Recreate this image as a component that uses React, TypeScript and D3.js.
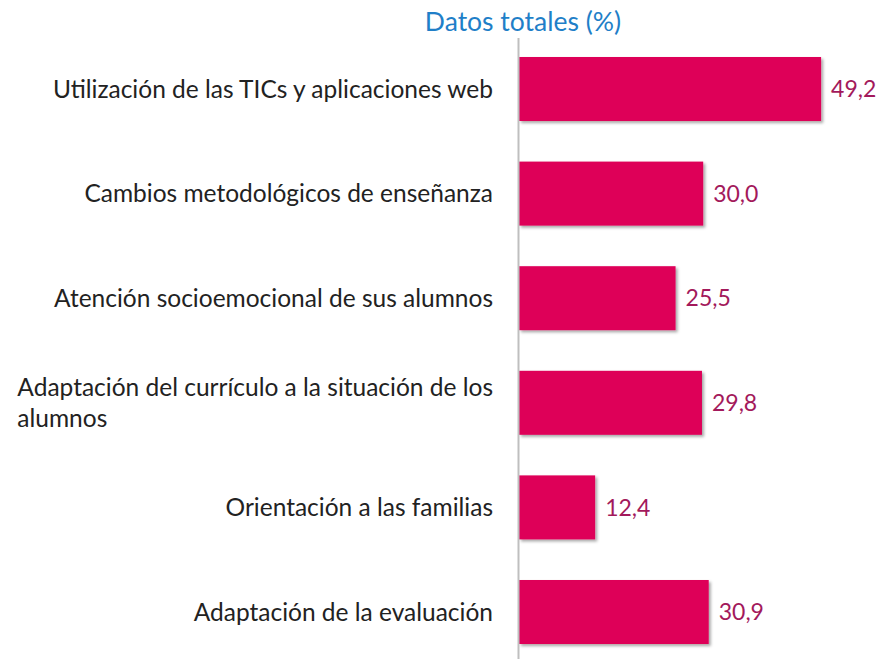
import * as d3 from "d3";
import { useEffect, useRef } from "react";

const categories = [
  ["Utilización de las TICs y aplicaciones web"],
  ["Cambios metodológicos de enseñanza"],
  ["Atención socioemocional de sus alumnos"],
  ["Adaptación del currículo a la situación de los", "alumnos"],
  ["Orientación a las familias"],
  ["Adaptación de la evaluación"],
];
const values = [49.2, 30.0, 25.5, 29.8, 12.4, 30.9];
const title = "Datos totales (%)";

const W = 879;
const H = 659;
const FONT = "Lato, 'Noto Sans', sans-serif";

const App = () => {
  const ref = useRef<SVGSVGElement>(null);

  useEffect(() => {
    const svg = d3.select(ref.current);
    svg.selectAll("*").remove();

    const axisX = 519;
    const x = d3.scaleLinear().domain([0, 50]).range([axisX, axisX + 307]);
    const keys = categories.map((c) => c.join(" "));
    const y = d3
      .scaleBand()
      .domain(keys)
      .range([36.7, 664.3])
      .paddingInner(0.388)
      .paddingOuter(0.194);

    const defs = svg.append("defs");
    const f = defs
      .append("filter")
      .attr("id", "shadow")
      .attr("x", "-5%")
      .attr("y", "-10%")
      .attr("width", "115%")
      .attr("height", "130%");
    f.append("feDropShadow")
      .attr("dx", 2)
      .attr("dy", 2)
      .attr("stdDeviation", 1.5)
      .attr("flood-color", "#000")
      .attr("flood-opacity", 0.35);

    svg
      .append("text")
      .attr("x", 523)
      .attr("y", 31)
      .attr("text-anchor", "middle")
      .attr("font-family", FONT)
      .attr("font-size", 26.5)
      .attr("fill", "#1f7fc8")
      .text(title);

    svg
      .append("g")
      .selectAll("rect")
      .data(values)
      .enter()
      .append("rect")
      .attr("x", x(0))
      .attr("y", (d, i) => y(keys[i]) as number)
      .attr("width", (d) => x(d) - x(0))
      .attr("height", y.bandwidth())
      .attr("fill", "#de0059")
      .attr("filter", "url(#shadow)");

    svg
      .append("line")
      .attr("x1", axisX - 0.5)
      .attr("x2", axisX - 0.5)
      .attr("y1", 38)
      .attr("y2", H)
      .attr("stroke", "#bfbfbf")
      .attr("stroke-width", 2);

    svg
      .append("g")
      .selectAll("text")
      .data(values)
      .enter()
      .append("text")
      .attr("x", (d) => x(d) + 10)
      .attr("y", (d, i) => (y(keys[i]) as number) + y.bandwidth() / 2)
      .attr("dy", "0.36em")
      .attr("font-family", FONT)
      .attr("font-size", 23)
      .attr("fill", "#a3195b")
      .text((d) => d3.format(".1f")(d).replace(".", ","));

    const labelRight = 493;
    const labels = svg.append("g").attr("font-family", FONT).attr("font-size", 24.5).attr("fill", "#222");
    categories.forEach((lines, i) => {
      const cy = (y(keys[i]) as number) + y.bandwidth() / 2;
      if (lines.length === 1) {
        labels
          .append("text")
          .attr("x", labelRight)
          .attr("y", cy)
          .attr("dy", "0.36em")
          .attr("text-anchor", "end")
          .text(lines[0]);
      } else {
        const lh = 31;
        const first = labels
          .append("text")
          .attr("x", labelRight)
          .attr("y", cy - lh / 2)
          .attr("dy", "0.36em")
          .attr("text-anchor", "end")
          .text(lines[0]);
        const wFirst = (first.node() as SVGTextElement).getComputedTextLength();
        lines.slice(1).forEach((ln, j) => {
          labels
            .append("text")
            .attr("x", labelRight - wFirst)
            .attr("y", cy - lh / 2 + lh * (j + 1))
            .attr("dy", "0.36em")
            .text(ln);
        });
      }
    });
  }, []);

  return (
    <svg
      ref={ref}
      width={W}
      height={H}
      style={{ position: "absolute", left: 0, top: 0, background: "#fff" }}
    />
  );
};

export default App;
